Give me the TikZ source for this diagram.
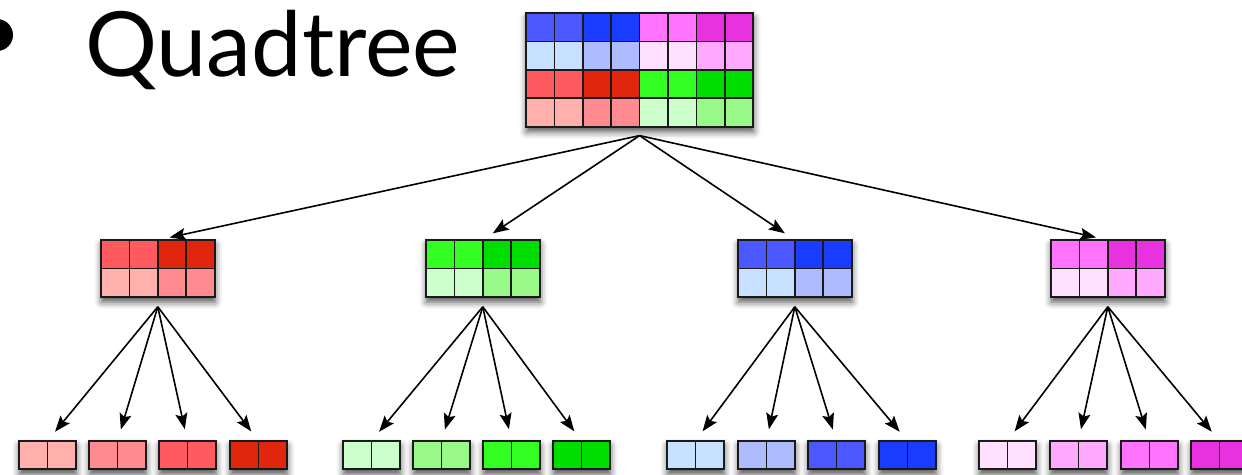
\documentclass[tikz,border=0pt]{standalone}
\usepackage{fontspec}
\setmainfont{Lato}
\usetikzlibrary{calc,arrows.meta,shadows.blur}

% cell colours: R/G/B/M families, 1 = medium, 2 = dark, 3 = pale, 4 = light
\definecolor{R1}{HTML}{FF5A5F}
\definecolor{R2}{HTML}{E0260D}
\definecolor{R3}{HTML}{FFB0AD}
\definecolor{R4}{HTML}{FF8A8F}
\definecolor{G1}{HTML}{33FF22}
\definecolor{G2}{HTML}{00DD00}
\definecolor{G3}{HTML}{CCFFCC}
\definecolor{G4}{HTML}{99F988}
\definecolor{B1}{HTML}{4B57FF}
\definecolor{B2}{HTML}{1A3CFF}
\definecolor{B3}{HTML}{C8E0FF}
\definecolor{B4}{HTML}{AEBBFF}
\definecolor{M1}{HTML}{FF73FF}
\definecolor{M2}{HTML}{E832E0}
\definecolor{M3}{HTML}{FFE0FF}
\definecolor{M4}{HTML}{FFAAFF}
\definecolor{ink}{HTML}{1A1A1A}

\def\cs{28.4}

% one row of cells inside a grid node
\newcommand\gridrow[3]{%
  \foreach \c [count=\i from 0] in {#3} {
    \draw[cell, fill=\c] ($(#1.north west)+(\i*\cs,#2*\cs)$) rectangle ++(\cs,\cs);
  }}
% outer frame of a grid node
\newcommand\frameof[1]{\draw[frame] (#1.north west) rectangle (#1.south east);}
% a 2x1 leaf block
\newcommand\leaf[3]{%
  \node[box, minimum width={\cs*2pt}, minimum height={\cs*1pt}] (#1) at (#2,441) {};
  \gridrow{#1}{0}{#3,#3}\frameof{#1}}
% a 4x2 block of the middle level
\newcommand\midblock[5]{%
  \node[box, minimum width={\cs*4pt}, minimum height={\cs*2pt}] (#1) at (#2,240) {};
  \gridrow{#1}{0}{#3,#3,#4,#4}\gridrow{#1}{1}{#5}\frameof{#1}}

\begin{document}
\begin{tikzpicture}[x=1pt,y=-1pt,
  box/.style={anchor=north west, inner sep=0pt, outer sep=0pt, fill=white,
    blur shadow={shadow xshift=0.5pt, shadow yshift=-5pt, shadow blur radius=7pt, shadow opacity=70}},
  cell/.style={draw=ink, line width=1.6pt},
  frame/.style={draw=ink, line width=2pt},
  link/.style={line width=1.6pt, -{Stealth[length=16pt, width=12pt, inset=3pt]}, shorten >=12pt}]
\useasboundingbox (0,0) rectangle (1242,474);
\clip (0,0) rectangle (1242,474);

% bullet and heading
\fill (-3,35) circle (16pt);
\node[anchor=base west, inner sep=0pt, font=\fontsize{90}{90}\selectfont] (title) at (85,76) {Quadtree};

% root grid
\node[box, minimum width={\cs*8pt}, minimum height={\cs*4pt}] (root) at (526,13) {};
\gridrow{root}{0}{B1,B1,B2,B2,M1,M1,M2,M2}
\gridrow{root}{1}{B3,B3,B4,B4,M3,M3,M4,M4}
\gridrow{root}{2}{R1,R1,R2,R2,G1,G1,G2,G2}
\gridrow{root}{3}{R3,R3,R4,R4,G3,G3,G4,G4}
\frameof{root}

% middle level
\midblock{red}{101}{R1}{R2}{R3,R3,R4,R4}
\midblock{green}{426}{G1}{G2}{G3,G3,G4,G4}
\midblock{blue}{738}{B1}{B2}{B3,B3,B4,B4}
\midblock{mag}{1051}{M1}{M2}{M3,M3,M4,M4}

% leaves
\leaf{r1}{19}{R3}\leaf{r2}{89}{R4}\leaf{r3}{159}{R1}\leaf{r4}{230}{R2}
\leaf{g1}{343}{G3}\leaf{g2}{413}{G4}\leaf{g3}{483}{G1}\leaf{g4}{553}{G2}
\leaf{b1}{667}{B3}\leaf{b2}{738}{B4}\leaf{b3}{808}{B1}\leaf{b4}{879}{B2}
\leaf{m1}{979}{M3}\leaf{m2}{1050}{M4}\leaf{m3}{1121}{M1}\leaf{m4}{1191}{M2}

% connectors
\coordinate (rootsrc) at ([yshift=-9pt]root.south);
\foreach \t in {red,green,blue,mag}
  \draw[link] (rootsrc) -- (\t.north);

\foreach \p/\k in {red/r,green/g,blue/b,mag/m} {
  \coordinate (\p src) at ([yshift=-10pt]\p.south);
  \foreach \n in {1,...,4}
    \draw[link] (\p src) -- (\k\n.north);
}
\end{tikzpicture}
\end{document}
